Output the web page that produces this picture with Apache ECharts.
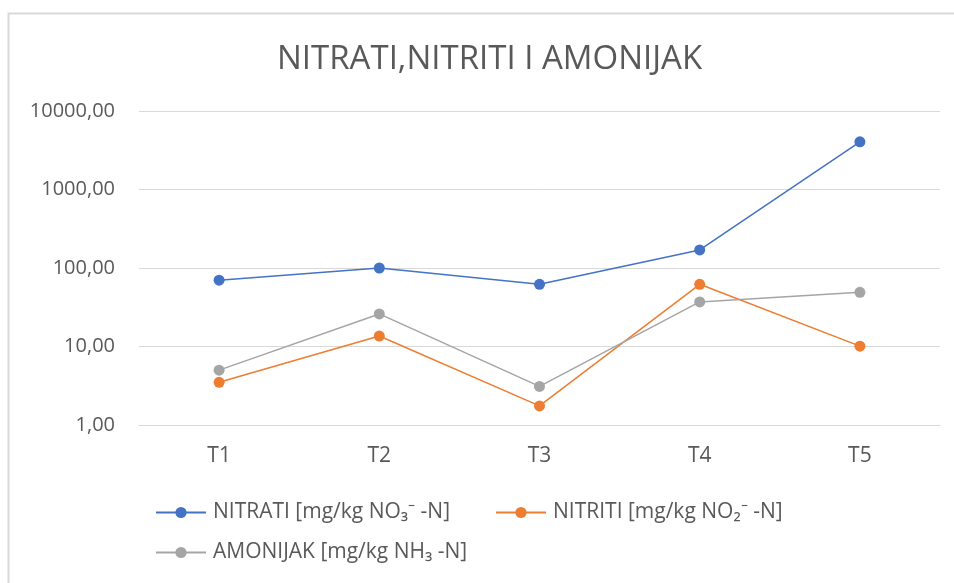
<!DOCTYPE html>
<html><head><meta charset="utf-8">
<script src="https://cdn.jsdelivr.net/npm/echarts@6/dist/echarts.min.js"></script>
<style>html,body{margin:0;padding:0;background:#fff}#c{width:954px;height:583px}</style>
</head><body><div id="c"></div>
<script>
const categories = ['T1', 'T2', 'T3', 'T4', 'T5'];
const nitrati = [70, 100, 62, 170, 4050];
const nitriti = [3.5, 13.6, 1.75, 62, 10.1];
const amonijak = [5.0, 26, 3.1, 37, 49];
const names = ['NITRATI [mg/kg NO₃⁻ -N]', 'NITRITI [mg/kg NO₂⁻ -N]', 'AMONIJAK [mg/kg NH₃ -N]'];
const colors = ['#4472C4', '#ED7D31', '#A5A5A5'];
const font = 'Open Sans';
const chart = echarts.init(document.getElementById('c'));
const mk = (name, data, color) => ({
  name, type: 'line', data, color,
  symbol: 'circle', symbolSize: 11,
  lineStyle: { width: 1.5, color },
  itemStyle: { color }
});
const legendBase = {
  itemWidth: 50, itemHeight: 14, itemGap: 10,
  textStyle: { color: '#595959', fontSize: 21, fontFamily: font, padding: [0, 0, 0, 2] }
};
chart.setOption({
  animation: false,
  backgroundColor: '#fff',
  title: {
    text: 'NITRATI,NITRITI I AMONIJAK', left: 272, top: 38,
    textStyle: { color: '#595959', fontSize: 33, fontWeight: 'normal', fontFamily: font }
  },
  graphic: [{
    type: 'rect', shape: { x: 8.5, y: 13.5, width: 1000, height: 1000 },
    style: { fill: 'none', stroke: '#d9d9d9', lineWidth: 2 }, silent: true
  }],
  legend: [
    Object.assign({ left: 150, top: 497, data: [names[0]] }, legendBase),
    Object.assign({ left: 490, top: 497, data: [names[1]] }, legendBase),
    Object.assign({ left: 150, top: 537, data: [names[2]] }, legendBase)
  ],
  grid: { left: 139, right: 14, top: 111, bottom: 158 },
  xAxis: {
    type: 'category', data: categories, boundaryGap: true,
    axisLine: { lineStyle: { color: '#d9d9d9' } },
    axisTick: { show: false },
    axisLabel: { color: '#595959', fontSize: 21, fontFamily: font, margin: 21 }
  },
  yAxis: {
    type: 'log', logBase: 10, min: 1, max: 10000,
    axisLine: { show: false }, axisTick: { show: false },
    splitLine: { lineStyle: { color: '#d9d9d9', width: 1 } },
    axisLabel: {
      color: '#595959', fontSize: 20, fontFamily: font, margin: 24,
      formatter: v => v.toFixed(2).replace('.', ',')
    }
  },
  series: [
    mk(names[0], nitrati, colors[0]),
    mk(names[1], nitriti, colors[1]),
    mk(names[2], amonijak, colors[2])
  ]
});
</script></body></html>
